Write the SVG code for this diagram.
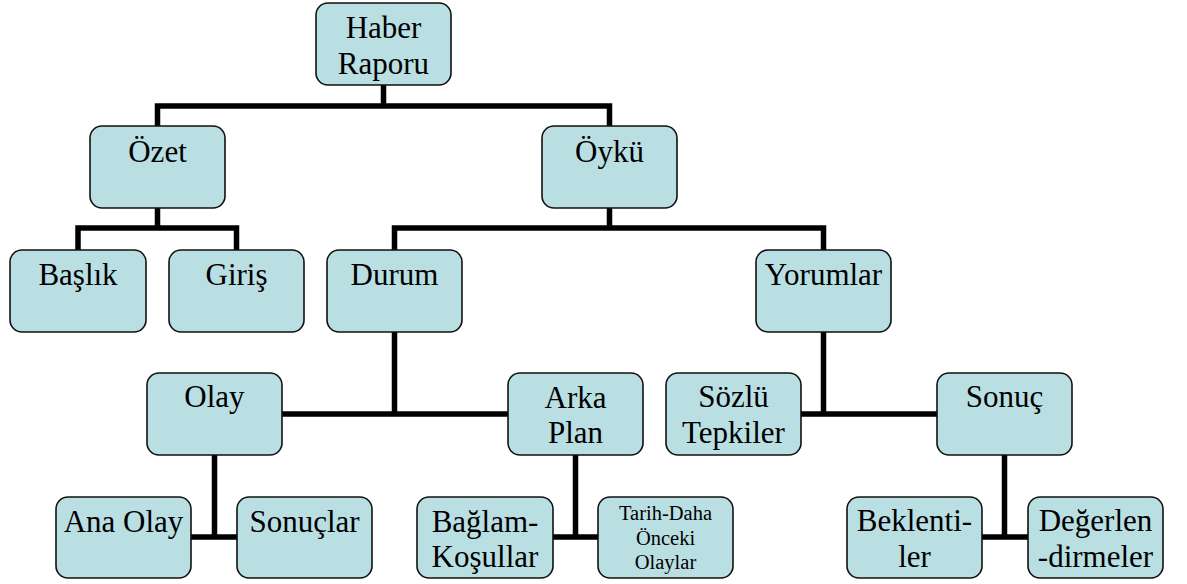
<svg xmlns="http://www.w3.org/2000/svg" width="1187" height="584" viewBox="0 0 1187 584">
<style>
.box{fill:#B9DFE3;stroke:#111;stroke-width:1.6}
.t{font-family:"Liberation Serif","Times New Roman",serif;font-size:31px;fill:#000;text-anchor:middle}
.s{font-family:"Liberation Serif","Times New Roman",serif;font-size:20.5px;fill:#000;text-anchor:middle}
.c{fill:none;stroke:#000;stroke-width:5.5;stroke-linecap:butt;stroke-linejoin:miter}
</style>
<rect width="1187" height="584" fill="#fff"/>
<g id="connectors" class="c">
<path d="M383.5 85V106M157.5 126V106H609.5V126"/>
<path d="M157.5 208V228M78 250V228H236.5V250"/>
<path d="M609.5 208V228M394.5 250V228H823.5V250"/>
<path d="M394.5 332V414M282 414H508"/>
<path d="M823.5 332V414M801 414H937"/>
<path d="M214.5 455V537M191 537H237"/>
<path d="M575.5 455V537M553 537H598"/>
<path d="M1004.5 455V537M982 537H1028"/>
</g>
<g id="haber"><rect class="box" x="316" y="3" width="135" height="82" rx="12"/><text class="t" x="383.5" y="38">Haber</text><text class="t" x="383.5" y="74">Raporu</text></g>
<g id="ozet"><rect class="box" x="90" y="126" width="135" height="82" rx="12"/><text class="t" x="157.5" y="162">Özet</text></g>
<g id="oyku"><rect class="box" x="542" y="126" width="135" height="82" rx="12"/><text class="t" x="609.5" y="162">Öykü</text></g>
<g id="baslik"><rect class="box" x="10" y="250" width="136" height="82" rx="12"/><text class="t" x="78" y="285">Başlık</text></g>
<g id="giris"><rect class="box" x="169" y="250" width="135" height="82" rx="12"/><text class="t" x="236.5" y="285">Giriş</text></g>
<g id="durum"><rect class="box" x="327" y="250" width="135" height="82" rx="12"/><text class="t" x="394.5" y="285">Durum</text></g>
<g id="yorumlar"><rect class="box" x="756" y="250" width="135" height="82" rx="12"/><text class="t" x="823.5" y="285">Yorumlar</text></g>
<g id="olay"><rect class="box" x="147" y="373" width="135" height="82" rx="12"/><text class="t" x="214.5" y="407">Olay</text></g>
<g id="arkaplan"><rect class="box" x="508" y="373" width="135" height="82" rx="12"/><text class="t" x="575.5" y="408">Arka</text><text class="t" x="575.5" y="443">Plan</text></g>
<g id="sozlu"><rect class="box" x="666" y="373" width="135" height="82" rx="12"/><text class="t" x="733.5" y="407">Sözlü</text><text class="t" x="733.5" y="443">Tepkiler</text></g>
<g id="sonuc"><rect class="box" x="937" y="373" width="135" height="82" rx="12"/><text class="t" x="1004.5" y="407">Sonuç</text></g>
<g id="anaolay"><rect class="box" x="56" y="497" width="135" height="81" rx="12"/><text class="t" x="123.5" y="531.5">Ana Olay</text></g>
<g id="sonuclar"><rect class="box" x="237" y="497" width="135" height="81" rx="12"/><text class="t" x="304.5" y="531.5">Sonuçlar</text></g>
<g id="baglam"><rect class="box" x="417" y="497" width="136" height="81" rx="12"/><text class="t" x="485" y="531.5">Bağlam-</text><text class="t" x="485" y="567">Koşullar</text></g>
<g id="tarih"><rect class="box" x="598" y="497" width="135" height="81" rx="12"/><text class="s" x="665.5" y="520">Tarih-Daha</text><text class="s" x="665.5" y="545">Önceki</text><text class="s" x="665.5" y="569">Olaylar</text></g>
<g id="beklentiler"><rect class="box" x="847" y="497" width="135" height="81" rx="12"/><text class="t" x="914.5" y="530.5">Beklenti-</text><text class="t" x="914.5" y="567">ler</text></g>
<g id="degerlendirmeler"><rect class="box" x="1028" y="497" width="135" height="81" rx="12"/><text class="t" x="1095.5" y="530.5">Değerlen</text><text class="t" x="1095.5" y="567">-dirmeler</text></g>
</svg>
